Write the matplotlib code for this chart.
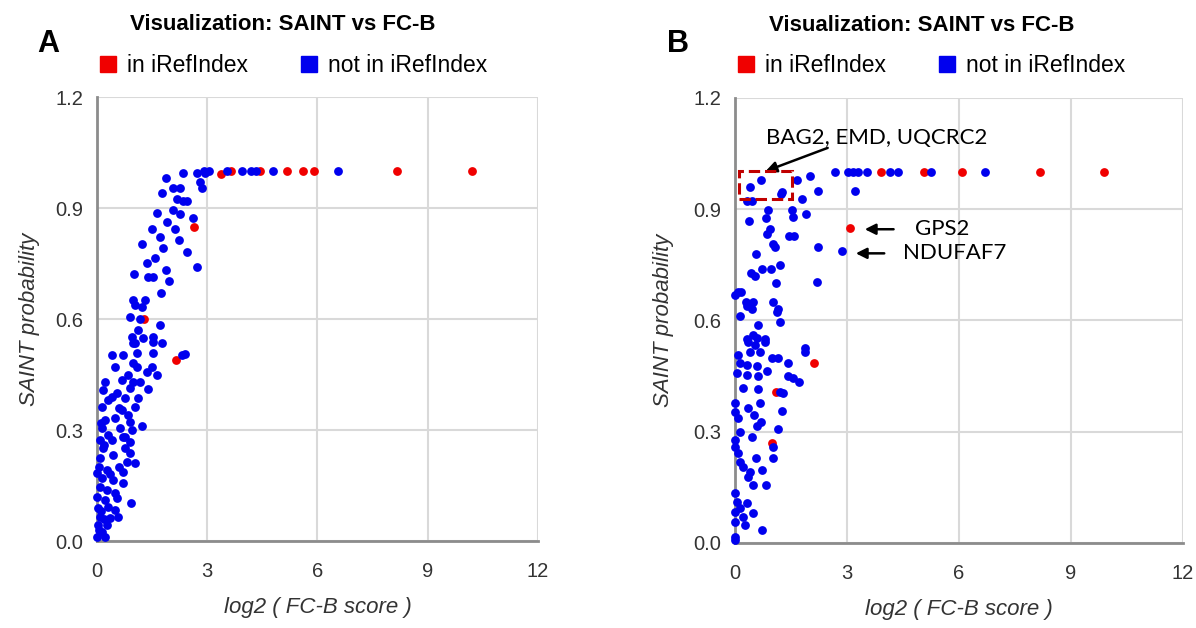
import matplotlib
matplotlib.use('Agg')
import matplotlib.pyplot as plt
from matplotlib.lines import Line2D
from matplotlib.patches import Rectangle

# Panel A: SAINT probability vs log2(FC-B score)
a_red_x = [2.64, 2.15, 1.28, 3.37, 3.65, 4.44, 5.17, 5.6, 5.9, 8.16, 10.2]
a_red_y = [0.849, 0.489, 0.600, 0.992, 1.0, 1.0, 1.0, 1.0, 1.0, 1.0, 1.0]
a_blue_x = [2.94, 2.72, 2.35, 2.9, 3.04, 3.54, 3.95, 4.2, 4.33, 4.79, 6.56,
            1.88, 2.8, 2.86, 2.07, 2.26, 1.77, 2.18, 2.45, 2.35, 2.07, 2.26, 1.63,
            2.61, 1.9, 1.5, 2.12, 1.71, 2.23, 1.22, 1.8, 2.45, 1.58, 1.36, 2.72,
            1.88, 1.0, 1.39, 1.52, 1.96, 1.74, 0.98, 1.31, 1.03, 1.22, 0.9, 1.17,
            1.71, 1.12, 0.95, 1.52, 1.03, 1.77, 0.98, 1.52,
            2.31, 2.4, 0.41, 0.71, 1.09, 1.52, 0.98, 0.49, 1.5, 1.36, 1.63, 0.22,
            0.68, 0.98, 1.17, 0.16, 0.9, 1.39, 0.41, 0.76, 1.12, 0.14, 1.03, 0.68,
            0.22, 0.49, 0.9, 1.22, 0.14, 0.63, 0.95, 0.3, 0.76, 0.08, 0.41, 0.9,
            0.16, 0.76, 0.44, 0.9, 0.08, 0.82, 1.03, 0.27, 0.0, 0.71, 0.14, 0.44,
            0.71, 0.08, 0.27, 0.0, 0.22, 0.54, 0.93, 0.03, 0.3, 0.49, 0.08, 0.35,
            0.57, 0.03, 0.27, 0.14, 0.22, 0.0,
            0.05, 0.1, 0.2, 0.35, 0.6, 0.55, 0.85, 0.3, 0.05, 0.12, 0.18, 0.6,
            1.1, 1.25, 0.7, 0.85, 0.5]
a_blue_y = [0.995, 0.995, 0.995, 1.0, 1.0, 1.0, 1.0, 1.0, 1.0, 1.0, 1.0,
            0.98, 0.97, 0.955, 0.955, 0.955, 0.94, 0.925, 0.92, 0.92, 0.895, 0.884, 0.886,
            0.873, 0.862, 0.843, 0.843, 0.822, 0.814, 0.803, 0.792, 0.781, 0.765, 0.751, 0.741,
            0.732, 0.722, 0.714, 0.714, 0.703, 0.67, 0.651, 0.651, 0.638, 0.632, 0.605, 0.6,
            0.584, 0.57, 0.551, 0.551, 0.535, 0.535, 0.535, 0.538,
            0.503, 0.505, 0.503, 0.503, 0.508, 0.508, 0.481, 0.47, 0.47, 0.457, 0.449, 0.43,
            0.435, 0.43, 0.43, 0.408, 0.414, 0.411, 0.389, 0.386, 0.386, 0.362, 0.362, 0.354,
            0.327, 0.332, 0.322, 0.311, 0.305, 0.305, 0.3, 0.286, 0.281, 0.273, 0.273, 0.268,
            0.251, 0.251, 0.232, 0.238, 0.224, 0.214, 0.211, 0.192, 0.184, 0.186, 0.17, 0.165,
            0.157, 0.146, 0.138, 0.119, 0.111, 0.116, 0.103, 0.089, 0.092, 0.084, 0.065, 0.062,
            0.065, 0.043, 0.043, 0.024, 0.011, 0.011,
            0.2, 0.32, 0.26, 0.18, 0.2, 0.4, 0.45, 0.38, 0.03, 0.08, 0.06, 0.36,
            0.47, 0.55, 0.28, 0.34, 0.13]

# Panel B
b_red_x = [3.91, 5.07, 6.09, 8.18, 9.87, 3.08, 2.12, 1.1, 0.99]
b_red_y = [1.0, 1.0, 1.0, 1.0, 1.0, 0.849, 0.486, 0.408, 0.27]
b_blue_x = [2.68, 3.03, 3.16, 3.3, 3.54, 4.16, 4.37, 5.25, 6.7,
            0.4, 0.7, 1.26, 1.22, 1.66, 2.01, 2.22, 3.22, 1.8, 0.32, 0.46, 0.88, 1.53,
            1.9, 1.55, 0.38, 0.83, 0.94, 0.86, 1.45, 1.58, 1.02, 1.07, 2.22, 2.87, 0.56,
            1.21, 0.97, 0.72, 0.43, 0.54, 2.2, 1.1, 0.16, 0.0, 0.08, 0.29, 0.48, 1.02,
            1.15, 0.45, 0.32, 1.13, 0.13, 0.62, 1.21, 0.32, 0.59, 0.8, 0.54, 1.88, 0.48,
            0.35, 0.8, 1.88, 0.08, 0.4, 0.67, 0.99, 1.15, 1.42, 0.13, 0.32, 0.59, 0.86,
            0.05, 0.32, 0.62, 1.42, 1.55, 1.72, 0.21, 0.62, 1.21, 1.29, 0.67, 0.0, 0.0,
            0.35, 1.26, 0.08, 0.51, 0.7, 0.59, 1.15, 0.13, 0.0, 0.46, 1.02, 0.0, 0.08,
            0.56, 1.02, 0.13, 0.21, 0.4, 0.72, 0.35, 0.48, 0.83, 0.0, 0.05, 0.32, 0.13,
            0.48, 0.0, 0.21, 0.0, 0.27, 0.72, 0.0, 0.0]
b_blue_y = [1.0, 1.0, 1.0, 1.0, 1.0, 1.0, 1.0, 1.0, 1.0,
            0.959, 0.978, 0.946, 0.94, 0.978, 0.989, 0.949, 0.949, 0.927, 0.922, 0.922, 0.897, 0.897,
            0.886, 0.878, 0.868, 0.876, 0.846, 0.832, 0.827, 0.827, 0.805, 0.797, 0.797, 0.786, 0.778,
            0.749, 0.738, 0.738, 0.727, 0.719, 0.705, 0.7, 0.678, 0.67, 0.678, 0.649, 0.649, 0.649,
            0.63, 0.63, 0.638, 0.622, 0.611, 0.589, 0.597, 0.549, 0.554, 0.549, 0.535, 0.527, 0.562,
            0.543, 0.543, 0.516, 0.508, 0.514, 0.514, 0.5, 0.5, 0.486, 0.486, 0.481, 0.476, 0.465,
            0.459, 0.454, 0.449, 0.449, 0.446, 0.435, 0.419, 0.416, 0.408, 0.405, 0.378, 0.378, 0.354,
            0.365, 0.357, 0.338, 0.346, 0.327, 0.316, 0.308, 0.3, 0.278, 0.286, 0.259, 0.259, 0.243,
            0.23, 0.23, 0.219, 0.205, 0.192, 0.197, 0.178, 0.157, 0.157, 0.135, 0.111, 0.108, 0.095,
            0.081, 0.084, 0.07, 0.057, 0.049, 0.035, 0.016, 0.008]

x_ticks = [0, 3, 6, 9, 12]
y_ticks = [0.0, 0.3, 0.6, 0.9, 1.2]
RED = '#f00000'
BLUE = '#0000ee'
FONT = 'Liberation Sans'

fig = plt.figure(figsize=(11.96, 6.28), dpi=100)
axA = fig.add_axes([0.0811, 0.1385, 0.3687, 0.707])
axB = fig.add_axes([0.6146, 0.1354, 0.3746, 0.7086])


def style(ax, red_x, red_y, blue_x, blue_y, ylab_x):
    ax.scatter(red_x, red_y, s=40, color=RED, zorder=3, clip_on=False, linewidths=0)
    ax.scatter(blue_x, blue_y, s=40, color=BLUE, zorder=4, clip_on=False, linewidths=0)
    ax.set_xlim(0, 12)
    ax.set_ylim(0, 1.2)
    ax.set_xticks(x_ticks)
    ax.set_xticklabels([str(t) for t in x_ticks])
    ax.set_yticks(y_ticks)
    ax.set_yticklabels(['%.1f' % t for t in y_ticks])
    ax.grid(True, color='#d9d9d9', linewidth=1.5)
    ax.set_axisbelow(True)
    for s in ['top', 'right']:
        ax.spines[s].set_visible(False)
    for s in ['left', 'bottom']:
        ax.spines[s].set_color('#8c8c8c')
        ax.spines[s].set_linewidth(2)
    ax.tick_params(axis='y', length=0, pad=10, labelsize=14.5, labelcolor='#333333')
    ax.tick_params(axis='x', length=0, pad=15, labelsize=14.5, labelcolor='#333333')
    for lab in ax.get_xticklabels() + ax.get_yticklabels():
        lab.set_fontfamily(FONT)
    ax.set_xlabel('log2 ( FC-B score )', fontsize=16, style='italic',
                  family=FONT, color='#333333')
    ax.xaxis.set_label_coords(0.5, -0.125)
    ax.set_ylabel('SAINT probability', fontsize=16, style='italic',
                  family=FONT, color='#333333')
    ax.yaxis.set_label_coords(ylab_x, 0.5)
    ax.text(0.075, 1.163, 'Visualization: SAINT vs FC-B', transform=ax.transAxes,
            fontsize=16, fontweight='bold', family=FONT, va='center', ha='left')
    handles = [Line2D([], [], marker='s', linestyle='', markersize=11,
                      markerfacecolor=RED, markeredgecolor=RED),
               Line2D([], [], marker='s', linestyle='', markersize=11,
                      markerfacecolor=BLUE, markeredgecolor=BLUE)]
    ax.legend(handles, ['in iRefIndex', 'not in iRefIndex'], ncol=2,
              loc='center left', bbox_to_anchor=(-0.016, 1.072), frameon=False,
              prop={'family': FONT, 'size': 16.5}, handlelength=0.8,
              handletextpad=0.4, columnspacing=2.3, borderaxespad=0)


style(axA, a_red_x, a_red_y, a_blue_x, a_blue_y, -0.13)
style(axB, b_red_x, b_red_y, b_blue_x, b_blue_y, -0.137)

fig.text(0.031, 0.93, 'A', fontsize=22, fontweight='bold', family=FONT, va='center')
fig.text(0.558, 0.93, 'B', fontsize=22, fontweight='bold', family=FONT, va='center')

# annotations on panel B
axB.add_patch(Rectangle((0.11, 0.927), 1.42, 0.076, fill=False, edgecolor='#c00000',
                        linestyle='--', linewidth=2.2, zorder=5))
axB.annotate('', xy=(0.75, 1.0), xytext=(2.55, 1.068),
             arrowprops=dict(arrowstyle='-|>', color='black', lw=1.8, mutation_scale=16))
axB.text(0.83, 1.092, 'BAG2, EMD, UQCRC2', fontsize=16, family='Lato', va='center', ha='left')
axB.annotate('', xy=(3.4, 0.846), xytext=(4.32, 0.846),
             arrowprops=dict(arrowstyle='-|>', color='black', lw=1.8, mutation_scale=16))
axB.text(4.83, 0.846, 'GPS2', fontsize=16, family='Lato', va='center', ha='left')
axB.annotate('', xy=(3.16, 0.781), xytext=(4.07, 0.781),
             arrowprops=dict(arrowstyle='-|>', color='black', lw=1.8, mutation_scale=16))
axB.text(4.5, 0.781, 'NDUFAF7', fontsize=16, family='Lato', va='center', ha='left')

fig.savefig('out.png', dpi=100)
